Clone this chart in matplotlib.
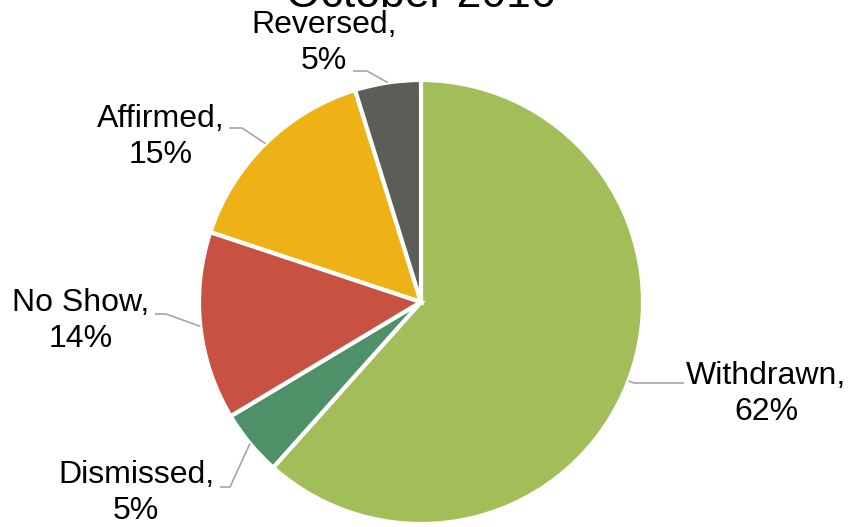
import numpy as np
import matplotlib
matplotlib.use('Agg')
import matplotlib.pyplot as plt

plt.rcParams['font.family'] = ['Liberation Sans', 'DejaVu Sans']

# Data (clockwise from 12 o'clock)
categories = ['Withdrawn', 'Dismissed', 'No Show', 'Affirmed', 'Reversed']
shares = [61.6, 4.8, 13.7, 15.1, 4.8]
colors = ['#A3BE58', '#4E9168', '#C85241', '#EEB217', '#5B5E57']
title = 'October 2016'

# Layout in pixel units (y measured from top of the image)
W, H = 849, 527
center_px = (421, 302)
radius = 222
label_pos = {
    'Withdrawn': (766, 394),
    'Dismissed': (136, 493),
    'No Show': (81, 321),
    'Affirmed': (161, 137),
    'Reversed': (324, 43),
}
# leader line: start at text side, horizontal run of dx, then to wedge
leader_start = {
    'Withdrawn': (684, 383, -50),
    'Dismissed': (220, 487, 10),
    'No Show': (155, 314, 11),
    'Affirmed': (229, 128, 13),
    'Reversed': (353, 71, 14),
}

fig = plt.figure(figsize=(W / 100, H / 100), dpi=100)
ax = fig.add_axes([0, 0, 1, 1])

cx, cy = center_px[0], H - center_px[1]
wedges, _ = ax.pie(shares, colors=colors, startangle=90, counterclock=False,
                   center=(cx, cy), radius=radius, frame=True,
                   wedgeprops=dict(edgecolor='white', linewidth=3))
ax.set_xlim(0, W)
ax.set_ylim(0, H)
ax.set_aspect('equal')
ax.axis('off')

for w, name, val in zip(wedges, categories, shares):
    mid = np.deg2rad((w.theta1 + w.theta2) / 2)
    ax_x = cx + radius * np.cos(mid)
    ax_y = cy + radius * np.sin(mid)
    sx, sy, dx = leader_start[name]
    sy = H - sy
    ax.plot([sx, sx + dx, ax_x], [sy, sy, ax_y], color='#A6A6A6', lw=1.2,
            solid_capstyle='butt', zorder=1)
    lx, ly = label_pos[name]
    ax.text(lx, H - ly, '%s,\n%d%%' % (name, round(val)), ha='center', va='center',
            multialignment='center', fontsize=23, color='black', linespacing=1.22)

ax.text(cx, H - 7, title, ha='center', va='baseline', fontsize=32, color='black')

fig.savefig('out.png', dpi=100)
